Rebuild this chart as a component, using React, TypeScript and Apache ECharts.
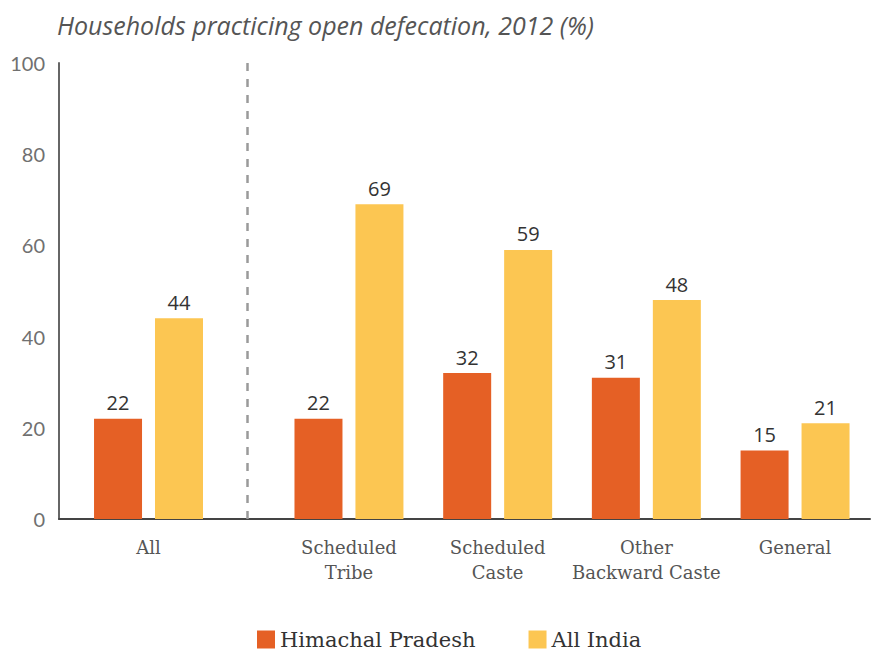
import React, { useEffect, useRef } from "react";
import * as echarts from "echarts";

const categories = ["All", "Scheduled\nTribe", "Scheduled\nCaste", "Other\nBackward Caste", "General"];
const himachal = [22, 22, 32, 31, 15];
const allIndia = [44, 69, 59, 48, 21];
const seriesNames = ["Himachal Pradesh", "All India"];
const yTicks = [0, 20, 40, 60, 80, 100];

// layout helpers (category centre positions on a value x axis, "All" set apart)
const catPos = categories.map((_, i) => (i === 0 ? 0.602 : 0.95 + i));
const pairOffset = 0.205;
const dividerPos = 1.264;

export default function App() {
  const ref = useRef<HTMLDivElement>(null);
  useEffect(() => {
    document.body.style.margin = "0";
    const chart = echarts.init(ref.current!, null, { renderer: "svg" });
    const labelStyle = {
      show: true,
      position: "top" as const,
      distance: 6,
      fontFamily: "Open Sans",
      fontSize: 20,
      color: "#333",
      formatter: (p: any) => String(p.value[1]),
    };
    chart.setOption({
      animation: false,
      backgroundColor: "#fff",
      title: {
        text: "Households practicing open defecation, 2012 (%)",
        left: 52,
        top: 7,
        textStyle: {
          fontFamily: "Open Sans",
          fontStyle: "italic",
          fontWeight: "normal",
          fontSize: 25,
          color: "#555",
        },
      },
      grid: { left: 59, right: 5, top: 63, bottom: 131 },
      legend: {
        left: 252,
        top: 624,
        icon: "rect",
        itemWidth: 18,
        itemHeight: 18,
        itemGap: 53,
        textStyle: { fontFamily: "DejaVu Serif", fontSize: 21, color: "#333" },
        data: seriesNames,
      },
      xAxis: {
        type: "value",
        min: 0,
        max: 5.454,
        splitLine: { show: false },
        axisTick: { show: false },
        axisLine: { show: true, lineStyle: { color: "#444", width: 2 } },
        axisLabel: {
          customValues: catPos,
          margin: 16,
          fontFamily: "DejaVu Serif",
          fontSize: 18,
          lineHeight: 25,
          color: "#555",
          formatter: (v: number) => {
            const i = catPos.findIndex((p) => Math.abs(p - v) < 1e-6);
            return i >= 0 ? categories[i] : "";
          },
        },
      },
      yAxis: {
        type: "value",
        min: 0,
        max: 100,
        interval: 20,
        splitLine: { show: false },
        axisTick: { show: false },
        axisLine: { show: true, lineStyle: { color: "#666", width: 2 } },
        axisLabel: {
          margin: 14,
          fontFamily: "Lato",
          fontSize: 20,
          color: "#707070",
          formatter: (v: number) => (yTicks.includes(v) ? String(v) : ""),
        },
      },
      series: [
        {
          name: seriesNames[0],
          type: "bar",
          barWidth: 48,
          barGap: "-100%",
          itemStyle: { color: "#E56025" },
          label: labelStyle,
          data: himachal.map((v, i) => [catPos[i] - pairOffset, v]),
          markLine: {
            silent: true,
            symbol: "none",
            label: { show: false },
            lineStyle: { type: [8, 8], color: "#9a9a9a", width: 2.5 },
            data: [[{ coord: [dividerPos, 0] }, { coord: [dividerPos, 100] }]],
          },
        },
        {
          name: seriesNames[1],
          type: "bar",
          barWidth: 48,
          barGap: "-100%",
          itemStyle: { color: "#FCC652" },
          label: labelStyle,
          data: allIndia.map((v, i) => [catPos[i] + pairOffset, v]),
        },
      ],
    });
    return () => chart.dispose();
  }, []);
  return <div ref={ref} style={{ width: 875, height: 650 }} />;
}
